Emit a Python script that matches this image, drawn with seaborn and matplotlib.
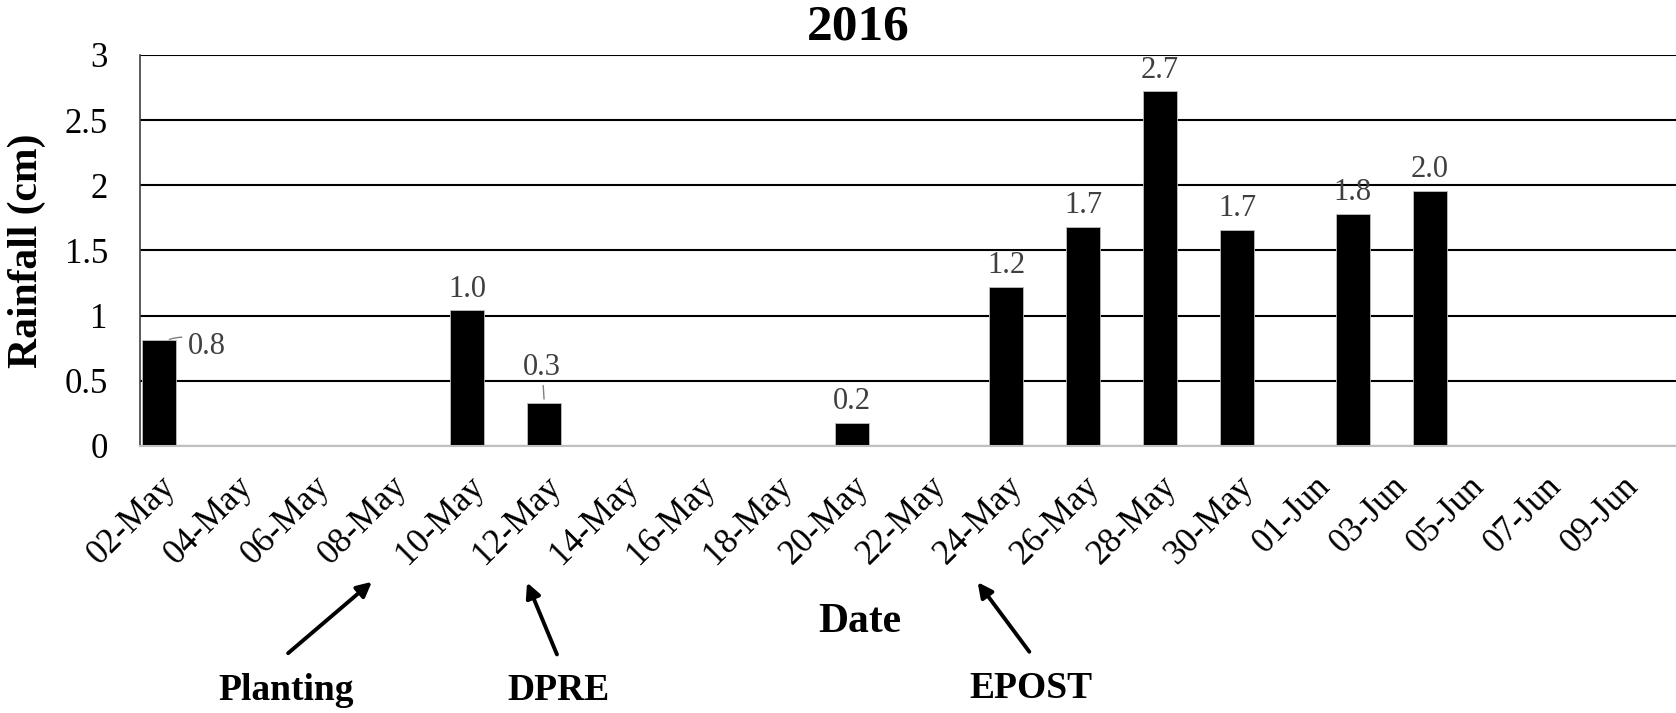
"""Rainfall bar chart, 2016 season"""

import matplotlib.pyplot as plt
import numpy as np
import pandas as pd
import seaborn as sns

# every day on the category axis
all_days = pd.date_range("2016-05-02", "2016-06-10", freq="D")
day_labels = [d.strftime("%d-%b") for d in all_days]

# days with rain and amount (cm)
rain_days = ["02-May", "10-May", "12-May", "20-May", "24-May",
             "26-May", "28-May", "30-May", "02-Jun", "04-Jun"]
rainfall_cm = [0.81, 1.04, 0.33, 0.18, 1.22, 1.68, 2.72, 1.66, 1.78, 1.96]

# field operations marked under the axis
events = ["Planting", "DPRE", "EPOST"]

sns.set_theme(style="white")
plt.rcParams["font.family"] = ["Liberation Serif", "DejaVu Serif"]
plt.rcParams["text.color"] = "black"
plt.rcParams["xtick.color"] = "black"
plt.rcParams["ytick.color"] = "black"
plt.rcParams["axes.labelcolor"] = "black"

df = pd.DataFrame({"date": rain_days, "rain": rainfall_cm})

fig = plt.figure(figsize=(16.76, 7.13), dpi=100)
ax = fig.add_axes([0.0834, 0.3745, 0.9166, 0.5484])

sns.barplot(data=df, x="date", y="rain", order=day_labels, color="black",
            width=0.88, edgecolor="#bfbfbf", linewidth=0.6, saturation=1,
            ax=ax)

ax.set_ylim(0, 3)
ax.set_xlim(-0.5, 39.4)
ax.set_yticks(np.arange(0, 3.01, 0.5))
ax.set_yticklabels(["0", "0.5", "1", "1.5", "2", "2.5", "3"])
ax.yaxis.grid(True, color="black", linewidth=1.5)
ax.set_axisbelow(True)

ticks = np.arange(0, len(day_labels), 2)
ax.set_xticks(ticks)
ax.set_xticklabels([day_labels[i] for i in ticks], rotation=45, ha="right",
                   va="top", rotation_mode="anchor")
ax.tick_params(axis="x", labelsize=25, pad=17, length=0)
ax.tick_params(axis="y", labelsize=25, pad=23, length=0)

for side in ["top", "right"]:
    ax.spines[side].set_visible(False)
ax.spines["left"].set_color("#404040")
ax.spines["left"].set_linewidth(1.2)
ax.spines["bottom"].set_color("#bfbfbf")
ax.spines["bottom"].set_linewidth(1.5)

ax.set_xlabel("")
ax.set_ylabel("Rainfall (cm)", fontsize=30, fontweight="bold")
ax.yaxis.set_label_coords(-0.061, 0.5)

# data labels
for day, val in zip(rain_days, rainfall_cm):
    xi = day_labels.index(day)
    txt = f"{val:.1f}"
    if day == "02-May":
        ax.annotate(txt, xy=(xi + 0.2, val), xytext=(xi + 0.75, val - 0.05),
                    fontsize=22, color="#404040", va="center", ha="left",
                    arrowprops=dict(arrowstyle="-", color="#808080", lw=1,
                                    connectionstyle="arc3,rad=0.3"))
    elif day == "12-May":
        ax.annotate(txt, xy=(xi, val + 0.03), xytext=(xi - 0.05, val + 0.27),
                    fontsize=22, color="#404040", va="center", ha="center",
                    arrowprops=dict(arrowstyle="-", color="#808080", lw=1,
                                    shrinkA=11, shrinkB=0))
    else:
        ax.annotate(txt, xy=(xi, val), xytext=(0, 10), textcoords="offset points",
                    fontsize=22, color="#404040", ha="center", va="baseline")

fig.text(0.512, 0.962, "2016", fontsize=37, fontweight="bold",
         ha="center", va="center")
fig.text(0.513, 0.128, "Date", fontsize=30, fontweight="bold",
         ha="center", va="center")

# event arrows (head, tail, label in figure pixels)
W, H = 1676, 713
arrows = {"Planting": ((374, 580), (286, 655), (286, 690)),
          "DPRE": ((526, 580), (558, 657), (558, 690)),
          "EPOST": ((976, 580), (1031, 654), (1031, 689))}
for name in events:
    head, tail, lab = arrows[name]
    fig.add_artist(plt.matplotlib.patches.FancyArrowPatch(
        (tail[0] / W, 1 - tail[1] / H), (head[0] / W, 1 - head[1] / H),
        transform=fig.transFigure, arrowstyle="-|>", mutation_scale=22,
        color="black", lw=2.8))
    fig.text(lab[0] / W, 1 - lab[1] / H, name, fontsize=27, fontweight="bold",
             ha="center", va="center")

plt.savefig("out.png", dpi=100)
plt.close()
